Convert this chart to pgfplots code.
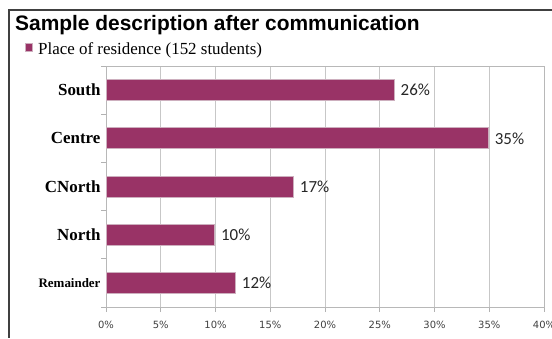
\documentclass[border=0pt]{standalone}
\usepackage{pgfplots}
\pgfplotsset{compat=1.18}
\usepackage{fontspec}
\setmainfont{Liberation Serif}
\newfontfamily\titlefont{Liberation Sans}
\newfontfamily\tickfont{DejaVu Sans}
\newfontfamily\labfont{Carlito}
\definecolor{plum}{RGB}{153,51,102}
\definecolor{plumedge}{RGB}{205,175,190}
\definecolor{framegray}{RGB}{64,64,64}
\begin{document}
\begin{tikzpicture}[x=1bp,y=1bp]
\path[use as bounding box] (0,0) rectangle (552,-338);
\draw[framegray, line width=1.6bp] (552,-10) -- (9,-10) -- (9,-338);
\node[anchor=base west, inner sep=0pt, font=\titlefont\bfseries\fontsize{21}{22}\selectfont] at (15,-30) {Sample description after communication};
\draw[plumedge, fill=plum, line width=0.6bp] (25,-43) rectangle (32,-51);
\node[anchor=base west, inner sep=0pt, font=\fontsize{17}{18}\selectfont] at (38,-54) {Place of residence (152 students)};
\begin{axis}[
  at={(106bp,-307bp)}, anchor=south west,
  scale only axis, width=438bp, height=241bp,
  xbar, bar width=21bp,
  xmin=0, xmax=40, ymin=0.5, ymax=5.5,
  xtick={0,5,...,40},
  xtick pos=bottom, ytick pos=left,
  xticklabel={\pgfmathprintnumber{\tick}\%},
  /pgf/number format/assume math mode=true,
  xticklabel style={font=\tickfont\fontsize{10}{10}\selectfont, text=black!75, yshift=-6bp},
  ytick={1,2,3,4,5},
  yticklabels={{\fontsize{13}{13}\selectfont Remainder},North,CNorth,Centre,South},
  yticklabel style={font=\bfseries\fontsize{17}{17}\selectfont, anchor=east, xshift=3bp},
  minor ytick={0.5,1.5,2.5,3.5,4.5,5.5},
  major y tick style={draw=none},
  tick align=outside, major tick length=5bp, minor tick length=5bp,
  tick style={black!30, line width=0.8bp},
  xmajorgrids, grid style={black!22, line width=0.8bp},
  axis line style={black!28, line width=0.8bp},
  nodes near coords={\pgfplotspointmeta},
  point meta=explicit symbolic,
  nodes near coords style={anchor=west, xshift=3bp, font=\labfont\fontsize{17}{17}\selectfont, text=black!85},
  clip=false,
]
\addplot[fill=plum, draw=plumedge, line width=0.8bp] coordinates {
  (11.8,1) [12\%]
  (9.9,2) [10\%]
  (17.1,3) [17\%]
  (34.9,4) [35\%]
  (26.3,5) [26\%]
};
\end{axis}
\end{tikzpicture}
\end{document}
